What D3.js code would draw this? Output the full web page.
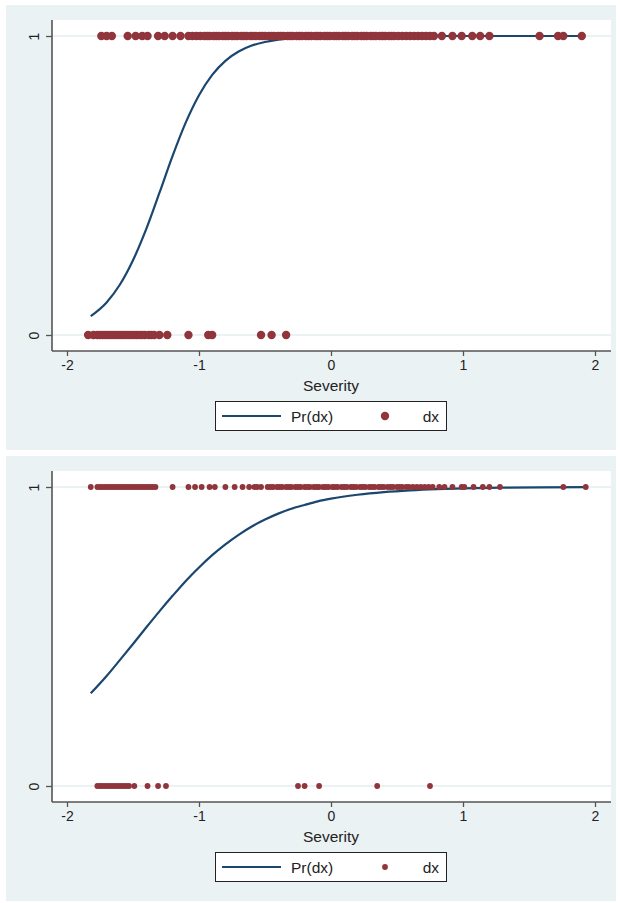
<!DOCTYPE html>
<html><head><meta charset="utf-8">
<script src="https://cdn.jsdelivr.net/npm/d3@7"></script>
<style>body{margin:0;background:#fff}svg{display:block}</style>
</head><body><div id="chart"></div>
<script>
// ---------- data ----------
const xTicks = [-2, -1, 0, 1, 2];
const yTicks = [0, 1];
const xLabel = "Severity";
const legendLabels = ["Pr(dx)", "dx"];

// Panel 1: fitted curve Pr(dx)
const curve1X = [-1.82,-1.7,-1.6,-1.5,-1.4,-1.3,-1.2,-1.1,-1.0,-0.9,-0.8,-0.7,-0.6,-0.5,-0.4,-0.3,-0.2,0,0.5,1.0,1.5,1.91];
const curve1Y = [0.063,0.109,0.168,0.250,0.354,0.475,0.599,0.711,0.802,0.870,0.917,0.948,0.968,0.980,0.988,0.993,0.9955,0.998,0.9997,1.0,1.0,1.0];
// Panel 1: observed dx = 1
const obs1One = [-1.74,-1.70,-1.66,-1.54,-1.48,-1.43,-1.39,-1.31,-1.26,-1.20,-1.14,
 -1.08,-1.05,-1.02,-0.99,-0.96,-0.94,-0.92,-0.89,-0.87,-0.85,-0.82,-0.80,-0.78,-0.75,-0.73,-0.71,-0.68,-0.66,-0.64,-0.61,-0.59,-0.57,-0.54,-0.52,-0.50,-0.47,-0.45,-0.43,-0.40,-0.38,-0.36,-0.33,-0.31,-0.29,-0.26,-0.24,-0.22,-0.19,-0.17,-0.15,-0.12,-0.10,-0.08,-0.05,-0.03,-0.01,0.02,0.04,0.06,0.09,0.11,0.13,0.16,0.18,0.20,0.23,0.25,0.27,0.30,0.32,0.34,0.37,0.39,0.41,0.44,0.46,0.48,0.51,0.54,0.57,0.60,0.63,0.66,0.69,0.72,0.75,0.78,
 0.84,0.92,0.99,1.07,1.13,1.20,1.58,1.72,1.76,1.90];
// Panel 1: observed dx = 0
const obs1Zero = [-1.84,-1.80,-1.77,-1.75,-1.73,-1.71,-1.69,-1.67,-1.65,-1.63,-1.61,-1.59,-1.57,-1.55,-1.53,-1.51,-1.49,-1.47,-1.45,-1.43,-1.41,-1.38,-1.36,-1.34,-1.30,-1.24,-1.08,-0.93,-0.90,-0.53,-0.45,-0.34];

// Panel 2: fitted curve Pr(dx)
const curve2X = [-1.82,-1.7,-1.6,-1.5,-1.4,-1.3,-1.2,-1.1,-1.0,-0.9,-0.8,-0.7,-0.6,-0.5,-0.4,-0.3,-0.2,-0.1,0,0.2,0.4,0.6,0.8,1.0,1.3,1.6,1.94];
const curve2Y = [0.310,0.368,0.421,0.475,0.530,0.584,0.636,0.686,0.731,0.772,0.808,0.840,0.868,0.891,0.911,0.927,0.940,0.952,0.961,0.974,0.983,0.989,0.993,0.9955,0.9977,0.9988,0.9994];
// Panel 2: observed dx = 1
const obs2One = [-1.82,-1.77,-1.75,-1.73,-1.71,-1.69,-1.67,-1.65,-1.63,-1.61,-1.59,-1.57,-1.55,-1.53,-1.51,-1.49,-1.47,-1.45,-1.43,-1.41,-1.39,-1.37,-1.35,-1.33,
 -1.20,-1.08,-1.03,-0.98,-0.92,-0.88,-0.80,-0.73,-0.67,-0.62,-0.58,-0.56,-0.53,
 -0.48,-0.46,-0.44,-0.41,-0.39,-0.37,-0.34,-0.32,-0.30,-0.27,-0.25,-0.23,-0.20,-0.18,-0.16,-0.13,-0.11,-0.09,-0.06,-0.04,-0.02,0.01,0.03,0.05,0.08,0.10,0.12,0.15,0.17,0.19,0.22,0.24,0.26,0.29,0.31,0.33,0.36,0.38,0.40,0.43,0.45,0.47,0.50,0.52,0.54,0.57,0.59,0.62,
 0.65,0.68,0.71,0.74,0.77,0.82,0.86,0.92,0.99,1.01,1.08,1.15,1.20,1.28,1.76,1.93];
// Panel 2: observed dx = 0
const obs2Zero = [-1.77,-1.75,-1.73,-1.71,-1.69,-1.67,-1.65,-1.63,-1.61,-1.59,-1.57,-1.55,-1.53,-1.49,-1.39,-1.31,-1.25,-0.25,-0.20,-0.09,0.35,0.75];

const panels = [
  {curveX: curve1X, curveY: curve1Y, one: obs1One, zero: obs1Zero, r: 4.2},
  {curveX: curve2X, curveY: curve2Y, one: obs2One, zero: obs2Zero, r: 2.9}
];

// ---------- styles ----------
const W = 620, H = 903;
const bg = "#eaf2f3", lineCol = "#1a476f", dotCol = "#90353b", axisCol = "#555";
const font = "'Liberation Sans', Arial, Helvetica, sans-serif";

const svg = d3.select("#chart").append("svg").attr("width", W).attr("height", H)
  .style("font-family", font);

const x = d3.scaleLinear().domain([-2, 2]).range([67, 595]);
const plotL = 52, plotR = 611;

panels.forEach((p, i) => {
  const off = i * 451;
  const g = svg.append("g").attr("transform", `translate(0,${off})`);
  g.append("rect").attr("x", 6).attr("y", 5).attr("width", 610).attr("height", 445).attr("fill", bg);
  g.append("rect").attr("x", plotL).attr("y", 20).attr("width", plotR - plotL).attr("height", 331).attr("fill", "#fff");

  const y = d3.scaleLinear().domain([0, 1]).range([335, 36]);

  // gridlines
  g.selectAll("line.grid").data(yTicks).join("line")
    .attr("x1", plotL).attr("x2", plotR)
    .attr("y1", d => y(d)).attr("y2", d => y(d))
    .attr("stroke", bg).attr("stroke-width", 2);

  // curve
  const pts = p.curveX.map((v, k) => [v, p.curveY[k]]);
  g.append("path").datum(pts)
    .attr("d", d3.line().x(d => x(d[0])).y(d => y(d[1])).curve(d3.curveMonotoneX))
    .attr("fill", "none").attr("stroke", lineCol).attr("stroke-width", 2.2);

  // dots
  const dots = p.one.map(v => [v, 1]).concat(p.zero.map(v => [v, 0]));
  g.selectAll("circle.obs").data(dots).join("circle")
    .attr("cx", d => x(d[0])).attr("cy", d => y(d[1])).attr("r", p.r)
    .attr("fill", dotCol);

  // x axis
  const xa = g.append("g").attr("transform", "translate(0,351)")
    .call(d3.axisBottom(x).tickValues(xTicks).tickSize(5).tickSizeOuter(0).tickPadding(4));
  xa.select(".domain").attr("d", `M${plotL},0H${plotR}`).attr("stroke", axisCol).attr("stroke-width", 1.3);
  xa.selectAll(".tick line").attr("stroke", axisCol).attr("stroke-width", 1.3);
  xa.selectAll(".tick text").attr("font-size", 14).attr("fill", "#222").attr("font-family", font)
    .text(d => d < 0 ? "-" + Math.abs(d) : d);

  // y axis
  const ya = g.append("g").attr("transform", `translate(${plotL},0)`)
    .call(d3.axisLeft(y).tickValues(yTicks).tickFormat(d3.format("d")).tickSize(6).tickSizeOuter(0));
  ya.select(".domain").attr("d", "M0,20V351").attr("stroke", axisCol).attr("stroke-width", 1.6);
  ya.selectAll(".tick line").attr("stroke", axisCol).attr("stroke-width", 1.3);
  ya.selectAll(".tick text").attr("font-size", 14).attr("fill", "#222").attr("font-family", font)
    .attr("text-anchor", "middle").attr("transform", "rotate(-90)")
    .attr("x", 0).attr("y", -13).attr("dy", 0);

  // x label
  g.append("text").attr("x", x(0)).attr("y", 391).attr("text-anchor", "middle")
    .attr("font-size", 15.5).attr("fill", "#222").text(xLabel);

  // legend
  const lg = g.append("g");
  lg.append("rect").attr("x", 215.5).attr("y", 401.5).attr("width", 231).attr("height", 29)
    .attr("fill", "#fff").attr("stroke", "#222").attr("stroke-width", 1);
  lg.append("line").attr("x1", 222).attr("x2", 281).attr("y1", 416).attr("y2", 416)
    .attr("stroke", lineCol).attr("stroke-width", 2.2);
  lg.append("text").attr("x", 291).attr("y", 421.5).attr("font-size", 15.5).attr("fill", "#222").text(legendLabels[0]);
  lg.append("circle").attr("cx", 385).attr("cy", 416).attr("r", p.r).attr("fill", dotCol);
  lg.append("text").attr("x", 439).attr("y", 421.5).attr("text-anchor", "end").attr("font-size", 15.5).attr("fill", "#222").text(legendLabels[1]);
});
</script>
</body></html>
